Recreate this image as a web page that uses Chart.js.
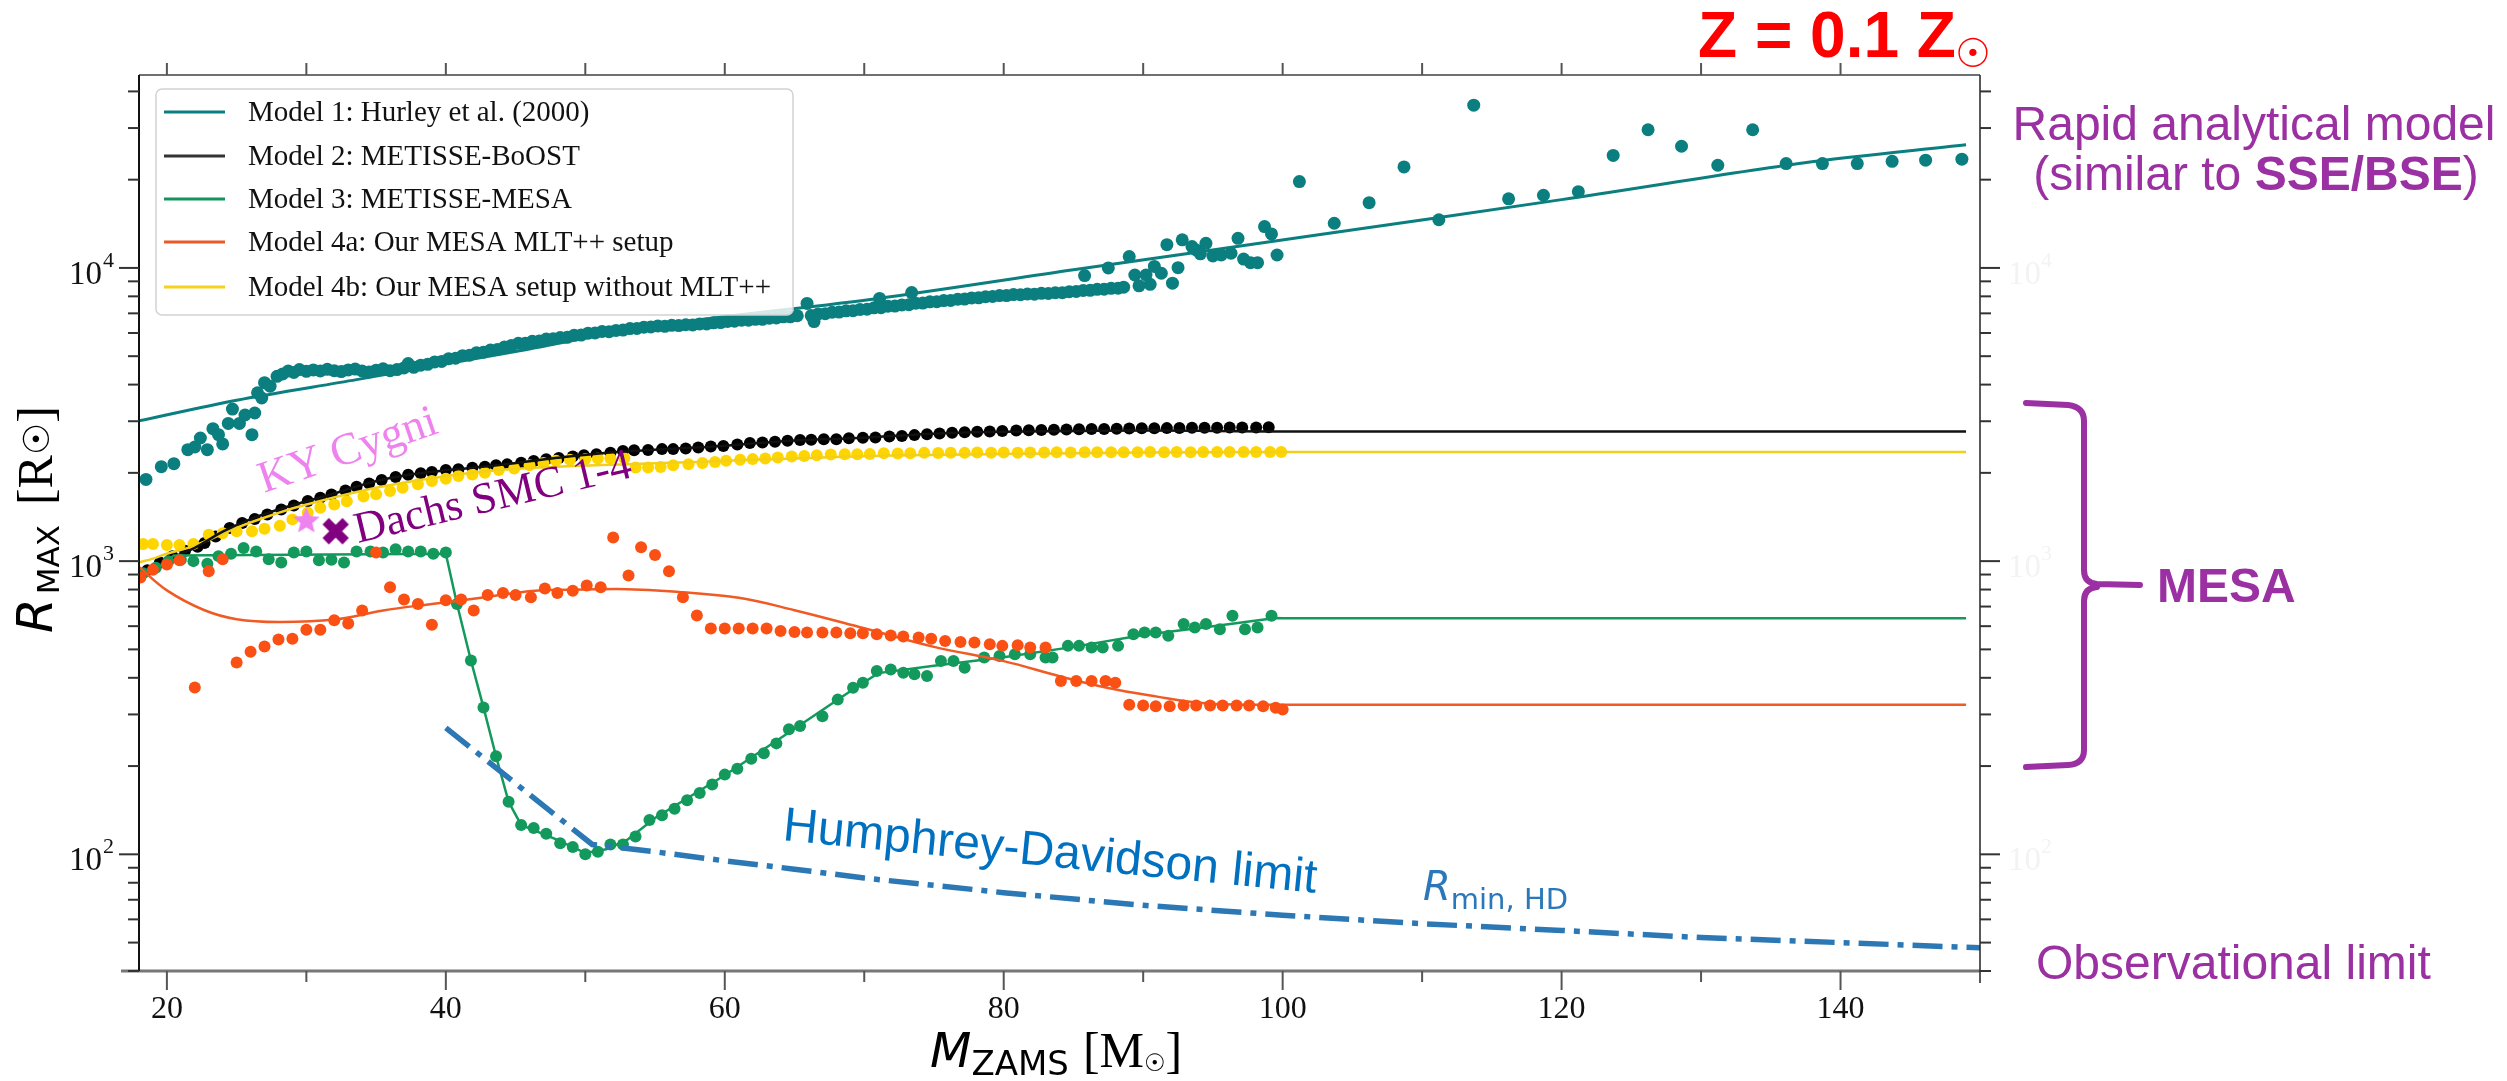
<!DOCTYPE html>
<html>
<head>
<meta charset="utf-8">
<title>Maximum radius vs ZAMS mass</title>
<script src="https://cdn.jsdelivr.net/npm/chart.js@4.4.1/dist/chart.umd.min.js"></script>
<style>
  html, body { margin: 0; padding: 0; background: #fff; }
  #wrap { width: 2507px; height: 1081px; }
</style>
</head>
<body>
<div id="wrap"><canvas id="chart" width="2507" height="1081"></canvas></div>
<script>
// ---- data (M in Msun, R in Rsun) ----
const m1Mass = [18.5,19.6,20.5,21.5,22.0,22.4,22.9,23.3,23.7,24.0,24.4,24.7,25.2,25.6,26.1,26.3,26.5,26.8,27.0,27.4,27.9,28.3,28.7,29.1,29.5,30.0,30.5,31.0,31.5,32.0,32.5,33.0,33.5,34.0,34.5,35.0,35.5,36.0,36.5,37.0,37.3,37.7,38.2,38.7,39.2,39.7,40.2,40.7,41.2,41.7,42.2,42.7,43.2,43.7,44.2,44.7,45.2,45.7,46.2,46.7,47.2,47.7,48.2,48.7,49.2,49.7,50.2,50.7,51.2,51.7,52.2,52.7,53.2,53.7,54.2,54.7,55.2,55.7,56.2,56.7,57.2,57.7,58.2,58.7,59.2,59.7,60.2,60.7,61.2,61.7,62.2,62.7,63.2,63.7,64.2,64.7,65.2,65.9,66.2,66.4,66.7,67.2,67.7,68.2,68.7,69.2,69.7,70.2,70.7,71.1,71.2,71.7,72.2,72.7,73.2,73.4,73.7,74.2,74.7,75.2,75.7,76.2,76.7,77.2,77.7,78.2,78.7,79.2,79.7,80.2,80.7,81.2,81.7,82.2,82.7,83.2,83.7,84.2,84.7,85.2,85.7,85.8,86.2,86.7,87.2,87.5,87.7,88.2,88.6,89.0,89.4,89.7,90.2,90.5,90.8,91.3,91.7,92.1,92.5,92.8,93.5,93.8,94.1,94.5,95.0,95.6,96.3,96.8,97.2,97.7,98.2,98.7,99.2,99.6,101.2,103.7,106.2,108.7,111.2,113.7,116.2,118.7,121.2,123.7,126.2,128.6,131.2,133.7,136.1,138.7,141.2,143.7,146.1,148.7];
const m1Radius = [1900,2100,2150,2400,2450,2630,2400,2830,2700,2510,2950,3300,2950,3150,2700,3200,3750,3600,4060,3950,4270,4350,4450,4400,4500,4440,4490,4450,4510,4460,4430,4490,4520,4450,4420,4480,4530,4460,4500,4560,4720,4580,4660,4690,4780,4800,4900,4920,5020,5040,5140,5160,5250,5270,5370,5440,5530,5540,5620,5630,5720,5730,5790,5800,5890,5900,5990,6000,6070,6060,6120,6140,6210,6220,6280,6290,6340,6320,6370,6360,6400,6390,6440,6440,6500,6510,6570,6580,6630,6630,6680,6680,6740,6750,6810,6810,6870,7570,6880,6560,6970,6980,7060,7070,7140,7150,7220,7230,7310,7870,7320,7400,7410,7480,7490,8240,7580,7590,7660,7670,7740,7750,7820,7830,7900,7910,7980,7990,8050,8050,8110,8100,8150,8140,8190,8180,8230,8230,8300,8310,8380,9420,8390,8450,8460,10000,8520,8530,8600,10930,9460,8690,9460,8790,10120,9590,12000,8870,10020,12470,11830,11510,11170,12130,10990,11070,11220,12620,10720,10420,10420,13840,13060,11070,19700,14200,16700,22100,14600,35900,17200,17700,18200,24200,29600,26000,22400,29600,22700,22700,22700,23100,23300,23500];
const m1LineMass = [18, 25, 33.6, 45, 55, 71, 85, 102.7, 120, 137.3, 149];
const m1LineRadius = [3010, 3540, 4160, 5190, 6350, 7870, 9850, 13000, 17100, 22800, 26300];

const m2Mass = [18.6,19.5,20.4,21.3,22.2,22.7,23.5,24.5,25.4,26.3,27.2,28.2,29.1,30.1,31.0,31.8,32.8,33.6,34.5,35.4,36.4,37.3,38.2,39.0,40.0,40.9,41.9,42.8,43.6,44.4,45.4,46.3,47.2,48.1,49.1,49.9,50.8,51.8,52.7,53.5,54.5,55.5,56.3,57.2,58.1,59.0,59.9,60.9,61.8,62.7,63.6,64.5,65.4,66.2,67.1,68.0,68.9,69.9,70.8,71.8,72.7,73.6,74.5,75.4,76.3,77.2,78.1,79.0,79.9,80.9,81.8,82.7,83.6,84.5,85.4,86.3,87.2,88.1,89.0,89.9,90.8,91.7,92.6,93.5,94.4,95.3,96.2,97.1,98.1,99.0];
const m2Radius = [930,990,1040,1085,1120,1153,1213,1297,1349,1393,1442,1500,1549,1603,1644,1687,1742,1795,1841,1891,1936,1972,1995,2015,2046,2056,2084,2100,2123,2138,2167,2197,2227,2249,2273,2296,2316,2344,2377,2388,2394,2410,2410,2421,2443,2460,2472,2500,2528,2540,2552,2575,2587,2594,2606,2606,2624,2636,2642,2660,2670,2690,2710,2725,2740,2750,2760,2770,2780,2790,2795,2800,2805,2810,2815,2820,2825,2830,2835,2838,2840,2842,2845,2848,2850,2852,2855,2855,2858,2860];
const m2LineMass = [18.2, 20, 22, 24, 26, 28, 30, 32, 34, 36, 38, 40, 44, 48, 52, 56, 60, 65, 70, 75, 80, 90, 100, 149];
const m2LineRadius = [900, 1010, 1110, 1260, 1390, 1500, 1600, 1700, 1820, 1920, 1990, 2040, 2130, 2250, 2350, 2410, 2475, 2580, 2636, 2720, 2760, 2790, 2770, 2770];

const m3Mass = [18.3,19.2,20.1,21.0,21.9,22.9,23.7,24.6,25.5,26.4,27.3,28.2,29.1,30.0,30.9,31.8,32.7,33.6,34.6,35.5,36.4,37.3,38.2,39.1,40.0,40.8,41.8,42.7,43.6,44.5,45.4,46.3,47.2,48.2,49.1,50.0,50.9,51.8,52.7,53.6,54.6,55.5,56.4,57.3,58.2,59.1,60.0,60.9,61.9,62.8,63.7,64.6,65.4,67.0,68.1,69.2,69.9,70.9,71.9,72.8,73.6,74.5,75.5,76.4,77.2,78.6,79.7,80.8,81.9,83.0,83.5,84.6,85.4,86.3,87.1,88.2,89.3,90.1,90.9,91.8,92.9,93.7,94.5,95.5,96.4,97.3,98.2,99.2];
const m3Radius = [910,950,1000,1010,1000,980,1040,1060,1108,1078,1014,990,1070,1078,1007,1010,990,1078,1078,1070,1097,1078,1078,1060,1071,714,458,317,216,151,126,123,117.5,109,106,100,102,108,108,115,131,136,143,153,162,173,187,196,212,221,239,267,274,296,337,370,385,422,427,416,411,406,456,456,433,469,475,481,481,469,469,514,514,507,507,514,563,571,571,556,610,594,610,586,651,586,594,651];
const m3LineMass = [18.2, 19.5, 20.5, 40, 40.8, 41.8, 42.7, 43.6, 44.5, 45.4, 48, 50, 51.5, 53, 55, 60, 65, 69, 71, 75, 80, 85, 90, 95, 99.5, 100, 149];
const m3LineRadius = [880, 960, 1045, 1060, 714, 458, 317, 216, 151, 126, 112, 101, 104, 112, 133, 186, 268, 360, 415, 440, 470, 510, 560, 600, 640, 638, 638];

const m4aMass = [18.1,19.0,20.0,20.9,22.0,23.0,24.0,25.0,26.0,27.0,28.0,29.0,30.0,31.0,32.0,33.0,34.0,35.0,36.0,37.0,38.0,39.0,40.0,41.1,42.0,43.0,44.1,45.0,46.1,47.1,48.0,49.1,50.1,51.1,52.0,53.1,54.0,55.0,56.0,57.0,58.0,59.0,60.0,61.0,62.0,63.0,64.0,65.0,65.9,67.0,68.0,69.0,69.9,70.9,71.9,72.8,73.9,74.8,75.8,76.9,77.9,79.0,79.9,81.0,81.9,83.0,84.1,85.2,86.3,87.3,88.0,89.0,90.0,90.9,91.9,92.9,93.8,94.8,95.7,96.7,97.6,98.6,99.5,100.0];
const m4aRadius = [879,934,973,1007,371,924,1014,451,491,511,540,544,583,583,628,613,679,1071,815,740,714,607,735,740,679,766,779,766,753,806,779,793,826,815,1203,893,1116,1049,924,753,652,589,589,589,589,589,578,573,571,571,571,568,568,563,558,553,549,544,534,530,528,521,514,517,507,507,390,390,390,390,385,324,322,320,320,322,322,322,322,322,322,320,316,312];
const m4aLineMass = [18, 20, 22.7, 25, 28, 32, 35.5, 39, 42.8, 46.4, 50, 53, 56, 61, 65, 70, 75, 80, 84, 87.4, 91, 94, 97, 100, 149];
const m4aLineRadius = [955, 795, 680, 634, 620, 632, 679, 714, 753, 793, 800, 802, 790, 750, 680, 590, 510, 456, 405, 370, 345, 329, 324, 324, 324];

const m4bMass = [18.3,19.0,20.0,20.9,21.9,23.0,24.0,25.0,26.1,27.0,28.1,29.0,30.1,31.0,32.0,32.9,34.1,35.0,36.0,36.9,38.0,39.0,40.0,40.9,41.9,42.8,43.8,44.9,46.0,47.0,47.9,48.9,50.0,50.9,51.8,52.8,53.6,54.5,55.4,56.3,57.4,58.4,59.3,60.1,61.1,62.0,62.9,63.8,64.8,65.7,66.6,67.6,68.6,69.5,70.4,71.4,72.4,73.3,74.3,75.3,76.2,77.2,78.1,79.1,80.0,81.0,81.9,82.9,83.8,84.8,85.8,86.7,87.7,88.6,89.6,90.5,91.5,92.4,93.4,94.3,95.3,96.2,97.2,98.1,99.1,99.9];
const m4bRadius = [1143,1143,1135,1135,1143,1230,1245,1264,1264,1290,1320,1388,1462,1520,1560,1600,1660,1690,1735,1780,1828,1875,1910,1950,1976,2003,2045,2070,2125,2160,2200,2215,2228,2240,2245,2245,2085,2085,2095,2125,2140,2160,2180,2200,2215,2228,2240,2256,2275,2285,2297,2310,2315,2315,2320,2335,2330,2335,2340,2338,2342,2340,2345,2343,2346,2344,2348,2346,2350,2348,2350,2352,2350,2353,2352,2354,2352,2355,2353,2356,2354,2356,2355,2357,2356,2355];
const m4bLineMass = [18, 19, 20, 22, 25, 28, 30, 35, 40, 44, 48, 53, 58, 65, 72, 80, 90, 100, 149];
const m4bLineRadius = [990, 1020, 1060, 1130, 1300, 1460, 1560, 1780, 1950, 2050, 2100, 2140, 2180, 2240, 2290, 2320, 2345, 2355, 2355];

const hdMass = [40, 50.5, 55, 60, 65, 70, 80, 90, 100, 110, 120, 130, 140, 150];
const hdRadius = [270, 108, 102, 95, 89, 83, 74, 67, 62, 58, 55, 52, 50, 48];

const kyMass = [30.0], kyRadius = [1380];
const dachsMass = [32.1], dachsRadius = [1265];

const xMajorTicks = [20, 40, 60, 80, 100, 120, 140];
const xMinorTicks = [30, 50, 70, 90, 110, 130];
const yTickValues = [100, 1000, 10000];
const yTickExponents = ['2', '3', '4'];

const legendLabels = [
  'Model 1: Hurley et al. (2000)',
  'Model 2: METISSE-BoOST',
  'Model 3: METISSE-MESA',
  'Model 4a: Our MESA MLT++ setup',
  'Model 4b: Our MESA setup without MLT++'
];
const legendColors = ['#0b7e7f', '#333333', '#15935c', '#ea5a28', '#f6d21c'];

// ---- colours ----
const TEAL = '#0b7e7f', GREEN = '#12995b', ORANGE = '#fa5014', GOLD = '#ffd500', PURPLE = '#9b30a2';

const pts = (xs, ys) => xs.map((x, i) => ({ x: x, y: ys[i] }));

function dots(data, color, order, r) {
  return { data, backgroundColor: color, borderWidth: 0, pointRadius: r || 6, pointHoverRadius: r || 6, order };
}
function curve(data, color, order, width, tension) {
  return { data, showLine: true, borderColor: color, borderWidth: width, pointRadius: 0, fill: false, tension: tension, order };
}

function starIcon(r, color) {
  const c = document.createElement('canvas');
  c.width = c.height = Math.ceil(r * 2 + 2);
  const g = c.getContext('2d');
  g.translate(c.width / 2, c.height / 2 + 1);
  g.beginPath();
  for (let i = 0; i < 10; i++) {
    const rad = i % 2 ? r * 0.45 : r;
    const ang = -Math.PI / 2 + i * Math.PI / 5;
    g.lineTo(rad * Math.cos(ang), rad * Math.sin(ang));
  }
  g.closePath();
  g.fillStyle = color;
  g.fill();
  return c;
}
function crossIcon(size, color) {
  const c = document.createElement('canvas');
  c.width = c.height = size;
  const g = c.getContext('2d');
  g.strokeStyle = color;
  g.lineWidth = 9;
  g.beginPath();
  g.moveTo(6, 6); g.lineTo(size - 6, size - 6);
  g.moveTo(size - 6, 6); g.lineTo(6, size - 6);
  g.stroke();
  return c;
}

// draw a sequence of text runs on one baseline
function runs(ctx, parts, x, y) {
  parts.forEach(p => {
    ctx.font = p.font;
    ctx.fillText(p.t, x, y + (p.dy || 0));
    x += ctx.measureText(p.t).width + (p.gap || 0);
  });
  return x;
}

const decor = {
  id: 'decor',
  afterDraw(chart) {
    const ctx = chart.ctx;
    const xs = chart.scales.x, ys = chart.scales.y;
    const a = chart.chartArea;
    ctx.save();

    // frame
    ctx.lineCap = 'butt';
    ctx.strokeStyle = '#707070'; ctx.lineWidth = 2;
    ctx.beginPath(); ctx.moveTo(a.left, a.top); ctx.lineTo(a.right, a.top); ctx.stroke();
    ctx.strokeStyle = '#777777'; ctx.lineWidth = 3;
    ctx.beginPath(); ctx.moveTo(a.left - 18, a.bottom); ctx.lineTo(a.right, a.bottom); ctx.stroke();
    ctx.strokeStyle = '#111111'; ctx.lineWidth = 2;
    ctx.beginPath(); ctx.moveTo(a.left, a.top); ctx.lineTo(a.left, a.bottom); ctx.stroke();
    ctx.strokeStyle = '#222222'; ctx.lineWidth = 1.5;
    ctx.beginPath(); ctx.moveTo(a.right, a.top); ctx.lineTo(a.right, a.bottom + 12); ctx.stroke();

    // x ticks
    ctx.strokeStyle = '#555'; ctx.lineWidth = 2;
    xMajorTicks.concat(xMinorTicks).forEach(v => {
      const px = xs.getPixelForValue(v);
      const len = xMajorTicks.includes(v) ? 19 : 11;
      ctx.beginPath(); ctx.moveTo(px, a.bottom); ctx.lineTo(px, a.bottom + len); ctx.stroke();
      ctx.beginPath(); ctx.moveTo(px, a.top); ctx.lineTo(px, a.top - 12); ctx.stroke();
    });
    ctx.fillStyle = '#111';
    ctx.font = '32px "Liberation Serif"';
    ctx.textAlign = 'center'; ctx.textBaseline = 'alphabetic';
    xMajorTicks.forEach(v => ctx.fillText(String(v), xs.getPixelForValue(v), a.bottom + 47));

    // y ticks (log minor ticks on both sides)
    ctx.strokeStyle = '#333'; ctx.lineWidth = 2;
    for (let d = 1; d <= 4; d++) {
      for (let m = 1; m <= 9; m++) {
        const v = m * Math.pow(10, d);
        if (v < 40 || v > 45500) continue;
        const py = ys.getPixelForValue(v);
        const len = m === 1 ? 20 : 11;
        ctx.beginPath(); ctx.moveTo(a.left - len, py); ctx.lineTo(a.left, py); ctx.stroke();
        ctx.beginPath(); ctx.moveTo(a.right, py); ctx.lineTo(a.right + len, py); ctx.stroke();
      }
    }
    yTickValues.forEach((v, i) => {
      const py = ys.getPixelForValue(v);
      ctx.fillStyle = '#111';
      ctx.textAlign = 'right';
      ctx.font = '33px "Liberation Serif"';
      ctx.fillText('10', 102, py + 16);
      ctx.textAlign = 'left';
      ctx.font = '22px "Liberation Serif"';
      ctx.fillText(yTickExponents[i], 103, py - 1);
      // barely visible right-hand labels
      ctx.fillStyle = '#f3f3f3';
      ctx.font = '33px "Liberation Serif"';
      ctx.fillText('10', 2008, py + 16);
      ctx.font = '22px "Liberation Serif"';
      ctx.fillText(yTickExponents[i], 2041, py - 1);
    });

    // axis titles
    ctx.fillStyle = '#000';
    ctx.textAlign = 'left';
    runs(ctx, [
      { t: 'M', font: 'italic 48px "DejaVu Sans"' },
      { t: 'ZAMS', font: '34px "DejaVu Sans"', dy: 8, gap: 14 },
      { t: '[M', font: '50px "Liberation Serif"' },
      { t: '\u2609', font: '24px "DejaVu Sans"', dy: 4 },
      { t: ']', font: '50px "Liberation Serif"' }
    ], 930, 1067);

    ctx.save();
    ctx.translate(52, 633);
    ctx.rotate(-Math.PI / 2);
    runs(ctx, [
      { t: 'R', font: 'italic 50px "DejaVu Sans"', gap: 4 },
      { t: 'MAX', font: '31px "DejaVu Sans"', dy: 7, gap: 20 },
      { t: '[R', font: '50px "Liberation Serif"' },
      { t: '\u2609', font: '36px "DejaVu Sans"', dy: -3 },
      { t: ']', font: '50px "Liberation Serif"' }
    ], 0, 0);
    ctx.restore();

    // legend
    ctx.fillStyle = 'rgba(255,255,255,0.82)';
    ctx.strokeStyle = '#d2d2d2'; ctx.lineWidth = 1.5;
    ctx.beginPath(); ctx.roundRect(156, 89, 637, 226, 6); ctx.fill(); ctx.stroke();
    const rowsY = [112, 156, 199, 242, 287];
    legendLabels.forEach((lab, i) => {
      ctx.strokeStyle = legendColors[i]; ctx.lineWidth = 3;
      ctx.beginPath(); ctx.moveTo(164, rowsY[i]); ctx.lineTo(225, rowsY[i]); ctx.stroke();
      ctx.fillStyle = '#111';
      ctx.font = '29px "Liberation Serif"';
      ctx.textBaseline = 'middle';
      ctx.fillText(lab, 248, rowsY[i] + 1);
    });
    ctx.textBaseline = 'alphabetic';

    // star labels
    ctx.save();
    ctx.translate(264, 493); ctx.rotate(-19 * Math.PI / 180);
    ctx.fillStyle = '#ee82ee'; ctx.font = '45px "Liberation Serif"';
    ctx.fillText('KY Cygni', 0, 0);
    ctx.restore();
    ctx.save();
    ctx.translate(358, 543); ctx.rotate(-13.5 * Math.PI / 180);
    ctx.fillStyle = '#800080'; ctx.font = '44px "Liberation Serif"';
    ctx.fillText('Dachs SMC 1-4', 0, 0);
    ctx.restore();

    // Humphreys-Davidson labels
    ctx.save();
    ctx.translate(782, 840); ctx.rotate(5.65 * Math.PI / 180);
    ctx.fillStyle = '#0070c0'; ctx.font = '48px "Liberation Sans"';
    ctx.fillText('Humphrey-Davidson limit', 0, 0);
    ctx.restore();
    ctx.fillStyle = '#2a78b9';
    runs(ctx, [
      { t: 'R', font: 'italic 40px "DejaVu Sans"' },
      { t: 'min, HD', font: '29px "DejaVu Sans"', dy: 9 }
    ], 1423, 900);

    // top-right title
    ctx.fillStyle = '#ff0000';
    ctx.font = 'bold 64px "Liberation Sans"';
    ctx.fillText('Z = 0.1 Z', 1698, 57);
    ctx.font = '40px "DejaVu Sans"';
    ctx.textAlign = 'center'; ctx.textBaseline = 'middle';
    ctx.fillText('\u2609', 1973, 57);
    ctx.textAlign = 'left'; ctx.textBaseline = 'alphabetic';

    // right-hand annotations
    ctx.fillStyle = PURPLE;
    ctx.textAlign = 'center';
    ctx.font = '48px "Liberation Sans"';
    ctx.fillText('Rapid analytical model', 2254, 140);
    ctx.font = '48px "Liberation Sans"';
    const w1 = ctx.measureText('(similar to ').width;
    const w3 = ctx.measureText(')').width;
    ctx.font = 'bold 48px "Liberation Sans"';
    const w2 = ctx.measureText('SSE/BSE').width;
    ctx.textAlign = 'left';
    const sx = 2256 - (w1 + w2 + w3) / 2;
    runs(ctx, [
      { t: '(similar to ', font: '48px "Liberation Sans"' },
      { t: 'SSE/BSE', font: 'bold 48px "Liberation Sans"' },
      { t: ')', font: '48px "Liberation Sans"' }
    ], sx, 190);
    ctx.font = 'bold 48px "Liberation Sans"';
    ctx.fillText('MESA', 2157, 602);
    ctx.font = '48px "Liberation Sans"';
    ctx.fillText('Observational limit', 2036, 979);

    // curly brace
    ctx.strokeStyle = PURPLE; ctx.lineWidth = 6; ctx.lineCap = 'round'; ctx.lineJoin = 'round';
    ctx.beginPath();
    ctx.moveTo(2026, 403);
    ctx.lineTo(2068, 405);
    ctx.quadraticCurveTo(2084, 407, 2084, 421);
    ctx.lineTo(2084, 570);
    ctx.quadraticCurveTo(2084, 583, 2097, 584);
    ctx.lineTo(2140, 585);
    ctx.moveTo(2097, 587);
    ctx.quadraticCurveTo(2084, 588, 2084, 601);
    ctx.lineTo(2084, 750);
    ctx.quadraticCurveTo(2084, 764, 2068, 765);
    ctx.lineTo(2026, 767);
    ctx.stroke();

    ctx.restore();
  }
};

const chart = new Chart(document.getElementById('chart').getContext('2d'), {
  type: 'scatter',
  data: {
    datasets: [
      { data: pts(kyMass, kyRadius), pointStyle: starIcon(14, '#ee82ee'), order: 0 },
      { data: pts(dachsMass, dachsRadius), pointStyle: crossIcon(32, '#800080'), order: 0 },
      Object.assign(curve(pts(hdMass, hdRadius), '#2b78b5', 1, 5.5, 0), { borderDash: [30, 9, 6, 9] }),
      dots(pts(m4aMass, m4aRadius), ORANGE, 10),
      curve(pts(m4aLineMass, m4aLineRadius), '#f05a24', 11, 2.5, 0.4),
      dots(pts(m3Mass, m3Radius), GREEN, 12),
      curve(pts(m3LineMass, m3LineRadius), GREEN, 13, 2.5, 0),
      curve(pts(m2LineMass, m2LineRadius), '#111111', 14, 2.5, 0.4),
      curve(pts(m4bLineMass, m4bLineRadius), '#f2cf1a', 15, 2.5, 0.4),
      dots(pts(m4bMass, m4bRadius), GOLD, 16),
      dots(pts(m2Mass, m2Radius), '#000000', 17),
      curve(pts(m1LineMass, m1LineRadius), TEAL, 18, 3, 0.3),
      dots(pts(m1Mass, m1Radius), TEAL, 19, 6.5)
    ]
  },
  options: {
    responsive: false,
    animation: false,
    layout: { padding: { left: 139, top: 75, right: 527, bottom: 110 } },
    plugins: { legend: { display: false }, tooltip: { enabled: false } },
    scales: {
      x: { type: 'linear', min: 18, max: 150, display: false },
      y: { type: 'logarithmic', min: 40, max: 45500, display: false }
    }
  },
  plugins: [decor]
});
</script>
</body>
</html>
